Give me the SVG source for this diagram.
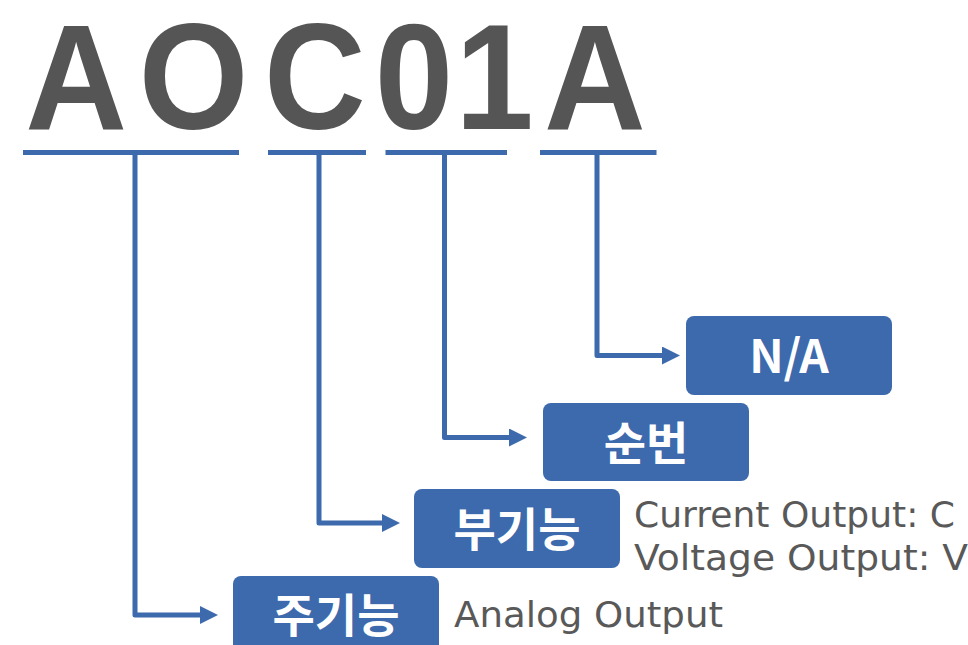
<svg xmlns="http://www.w3.org/2000/svg" width="968" height="645" viewBox="0 0 968 645">
  <style>
    .title { font-family: "Liberation Sans", Arial, sans-serif; font-weight: bold; font-size: 150px; fill: #555555; }
    .uline { fill: #3D69AD; }
    .conn { fill: none; stroke: #3D69AD; stroke-width: 5; stroke-linejoin: round; }
    .box { fill: #3D69AD; }
    .boxtext { font-family: "Noto Sans CJK KR", "Noto Sans", sans-serif; font-weight: bold; font-size: 46px; fill: #FFFFFF; text-anchor: middle; dominant-baseline: central; }
    .desc { font-family: "DejaVu Sans", "Liberation Sans", sans-serif; font-size: 35px; fill: #595959; }
  </style>
  <defs>
    <marker id="arrow" markerUnits="userSpaceOnUse" markerWidth="18" markerHeight="18" viewBox="0 0 18 18" refX="0" refY="9" orient="auto">
      <path d="M0,0 L18,9 L0,18 Z" fill="#3D69AD"/>
    </marker>
  </defs>

  <g id="title">
    <text class="title" y="129" text-anchor="middle" transform="scale(0.94 1)"><tspan x="80.9">A</tspan><tspan x="205.9">O</tspan><tspan x="335.1">C</tspan><tspan x="440.5">0</tspan><tspan x="526">1</tspan><tspan x="633">A</tspan></text>
  </g>

  <g id="underlines">
    <rect class="uline" x="23" y="150" width="216" height="5"/>
    <rect class="uline" x="268" y="150" width="98" height="5"/>
    <rect class="uline" x="385.5" y="150" width="121.5" height="5"/>
    <rect class="uline" x="540" y="150" width="116.5" height="5"/>
  </g>

  <g id="connectors">
    <path class="conn" d="M135,152 V615 H200" marker-end="url(#arrow)"/>
    <path class="conn" d="M319,152 V523 H382" marker-end="url(#arrow)"/>
    <path class="conn" d="M444.5,152 V437.5 H509" marker-end="url(#arrow)"/>
    <path class="conn" d="M597,152 V355.5 H662" marker-end="url(#arrow)"/>
  </g>

  <g id="node-na">
    <rect class="box" x="686" y="316" width="206" height="79" rx="8"/>
    <text class="boxtext" x="789" y="353">N/A</text>
  </g>

  <g id="node-sunbeon">
    <rect class="box" x="543" y="403" width="206" height="78" rx="8"/>
    <text class="boxtext" x="646" y="440">순번</text>
  </g>

  <g id="node-bugineung">
    <rect class="box" x="414" y="489" width="206" height="79" rx="8"/>
    <text class="boxtext" x="517" y="526">부기능</text>
    <text class="desc" x="634" y="527" textLength="321" lengthAdjust="spacingAndGlyphs">Current Output: C</text>
    <text class="desc" x="634" y="570" textLength="334" lengthAdjust="spacingAndGlyphs">Voltage Output: V</text>
  </g>

  <g id="node-jugineung">
    <rect class="box" x="233" y="576" width="206" height="79" rx="8"/>
    <text class="boxtext" x="336" y="612">주기능</text>
    <text class="desc" x="454" y="627" textLength="269" lengthAdjust="spacingAndGlyphs">Analog Output</text>
  </g>
</svg>
